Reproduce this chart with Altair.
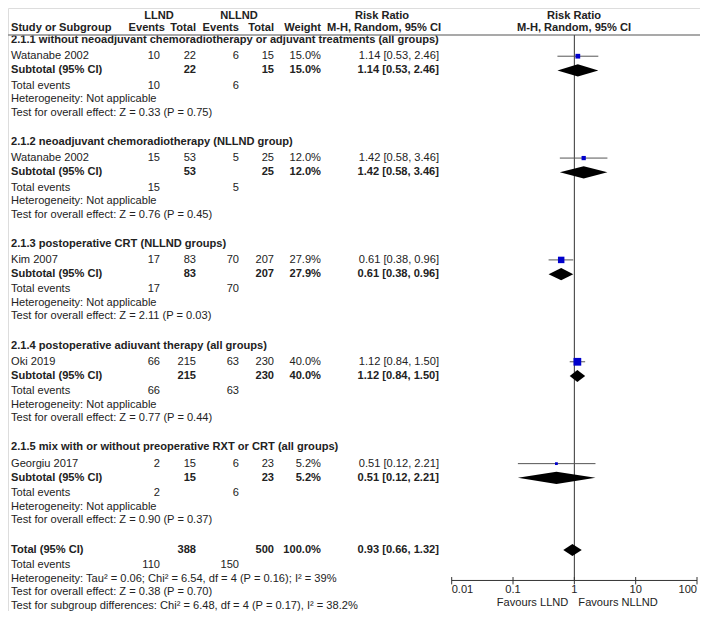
import altair as alt
import pandas as pd

# ---------------- data ----------------
group_titles = [
    "2.1.1 without neoadjuvant chemoradiotherapy or adjuvant treatments (all groups)",
    "2.1.2 neoadjuvant chemoradiotherapy (NLLND group)",
    "2.1.3 postoperative CRT (NLLND groups)",
    "2.1.4 postoperative adiuvant therapy (all groups)",
    "2.1.5 mix with or without preoperative RXT or CRT (all groups)",
]
studies = ["Watanabe 2002", "Watanabe 2002", "Kim 2007", "Oki 2019", "Georgiu 2017"]
llnd_events = [10, 15, 17, 66, 2]
llnd_total = [22, 53, 83, 215, 15]
nllnd_events = [6, 5, 70, 63, 6]
nllnd_total = [15, 25, 207, 230, 23]
weights = [15.0, 12.0, 27.9, 40.0, 5.2]
rr = [1.14, 1.42, 0.61, 1.12, 0.51]
rr_lo = [0.53, 0.58, 0.38, 0.84, 0.12]
rr_hi = [2.46, 3.46, 0.96, 1.50, 2.21]
overall_tests = ["Z = 0.33 (P = 0.75)", "Z = 0.76 (P = 0.45)", "Z = 2.11 (P = 0.03)",
                 "Z = 0.77 (P = 0.44)", "Z = 0.90 (P = 0.37)"]

total_llnd = 388
total_nllnd = 500
total_events_llnd = 110
total_events_nllnd = 150
total_rr, total_lo, total_hi = 0.93, 0.66, 1.32
total_het = "Heterogeneity: Tau\u00b2 = 0.06; Chi\u00b2 = 6.54, df = 4 (P = 0.16); I\u00b2 = 39%"
total_test = "Test for overall effect: Z = 0.38 (P = 0.70)"
subgroup_test = "Test for subgroup differences: Chi\u00b2 = 6.48, df = 4 (P = 0.17), I\u00b2 = 38.2%"

axis_ticks = [0.01, 0.1, 1, 10, 100]
axis_labels = ["0.01", "0.1", "1", "10", "100"]
favours = ["Favours LLND", "Favours NLLND"]

# ---------------- layout ----------------
W, H = 692, 603
FONT = "Liberation Sans"
TXT = "#222222"
FS_REG, FS_BOLD = 11.1, 11.1
block_y = [49 + 103.75 * k for k in range(5)]
OFF = dict(heading=-16.5, study=0, subtotal=14.5, tevents=30, het=44, test=57.5)
Y_TOTAL, Y_TEV, Y_HET, Y_TEST, Y_SUB = 552, 567, 581, 595, 609
Y_HDR1, Y_HDR2, Y_HLINE = 8.5, 20.5, 27.5
Y_AXIS = 583

X_LEFT, X_LE, X_LT, X_NE, X_NT, X_W, X_RR = 3, 152, 188, 231, 266, 313, 431

yscale = alt.Scale(domain=[-0.1, 614.1], reverse=True, nice=False, zero=False)
xscale = alt.Scale(type="log", domain=[0.01, 100], range=[443.7, 689], nice=False)

def fmt_ci(a, b, c):
    return f"{a:.2f} [{b:.2f}, {c:.2f}]"

items = []
def add(t, y, x, align="left", bold=False):
    items.append((str(t), y, x, align, "bold" if bold else "normal"))

# header
add("LLND", Y_HDR1, 151, "center", True)
add("NLLND", Y_HDR1, 231, "center", True)
add("Risk Ratio", Y_HDR1, 374, "center", True)
add("Risk Ratio", Y_HDR1, 566, "center", True)
add("Study or Subgroup", Y_HDR2, X_LEFT, "left", True)
add("Events", Y_HDR2, 157, "right", True)
add("Total", Y_HDR2, 188, "right", True)
add("Events", Y_HDR2, 231, "right", True)
add("Total", Y_HDR2, 266, "right", True)
add("Weight", Y_HDR2, 313, "right", True)
add("M-H, Random, 95% CI", Y_HDR2, 376, "center", True)
add("M-H, Random, 95% CI", Y_HDR2, 566, "center", True)

for k in range(5):
    b = block_y[k]
    add(group_titles[k], b + OFF["heading"], X_LEFT, "left", True)
    ys = b + OFF["study"]
    add(studies[k], ys, X_LEFT)
    add(llnd_events[k], ys, X_LE, "right")
    add(llnd_total[k], ys, X_LT, "right")
    add(nllnd_events[k], ys, X_NE, "right")
    add(nllnd_total[k], ys, X_NT, "right")
    add(f"{weights[k]:.1f}%", ys, X_W, "right")
    add(fmt_ci(rr[k], rr_lo[k], rr_hi[k]), ys, X_RR, "right")
    yt = b + OFF["subtotal"]
    add("Subtotal (95% CI)", yt, X_LEFT, "left", True)
    add(llnd_total[k], yt, X_LT, "right", True)
    add(nllnd_total[k], yt, X_NT, "right", True)
    add(f"{weights[k]:.1f}%", yt, X_W, "right", True)
    add(fmt_ci(rr[k], rr_lo[k], rr_hi[k]), yt, X_RR, "right", True)
    add("Total events", b + OFF["tevents"], X_LEFT)
    add(llnd_events[k], b + OFF["tevents"], X_LE, "right")
    add(nllnd_events[k], b + OFF["tevents"], X_NE, "right")
    add("Heterogeneity: Not applicable", b + OFF["het"], X_LEFT)
    add("Test for overall effect: " + overall_tests[k], b + OFF["test"], X_LEFT)

add("Total (95% CI)", Y_TOTAL, X_LEFT, "left", True)
add(total_llnd, Y_TOTAL, X_LT, "right", True)
add(total_nllnd, Y_TOTAL, X_NT, "right", True)
add("100.0%", Y_TOTAL, X_W, "right", True)
add(fmt_ci(total_rr, total_lo, total_hi), Y_TOTAL, X_RR, "right", True)
add("Total events", Y_TEV, X_LEFT)
add(total_events_llnd, Y_TEV, X_LE, "right")
add(total_events_nllnd, Y_TEV, X_NE, "right")
add(total_het, Y_HET, X_LEFT)
add(total_test, Y_TEST, X_LEFT)
add(subgroup_test, Y_SUB, X_LEFT)

tdf = pd.DataFrame(items, columns=["text", "y", "x", "align", "weight"])

layers = []
for (x, align, weight), sub in tdf.groupby(["x", "align", "weight"]):
    layers.append(
        alt.Chart(sub).mark_text(align=align, baseline="middle", font=FONT,
                                 fontSize=FS_BOLD if weight == "bold" else FS_REG,
                                 fontWeight=weight, color=TXT)
        .encode(x=alt.value(float(x)), y=alt.Y("y:Q", scale=yscale, axis=None), text="text:N")
    )

# header line
hl = pd.DataFrame({"y": [Y_HLINE]})
layers.append(alt.Chart(hl).mark_rule(color="#8c8c8c", strokeWidth=1.5)
              .encode(x=alt.value(0), x2=alt.value(W), y=alt.Y("y:Q", scale=yscale, axis=None)))

# null line
nl = pd.DataFrame({"x": [1], "y": [Y_HLINE], "y2": [Y_AXIS]})
layers.append(alt.Chart(nl).mark_rule(color="#333333", strokeWidth=1)
              .encode(x=alt.X("x:Q", scale=xscale, axis=None),
                      y=alt.Y("y:Q", scale=yscale, axis=None), y2="y2:Q"))

# study CI + squares
sdf = pd.DataFrame({"rr": rr, "lo": rr_lo, "hi": rr_hi, "w": weights,
                    "y": [b + OFF["study"] for b in block_y]})
layers.append(alt.Chart(sdf).mark_rule(color="#555555", strokeWidth=1)
              .encode(x=alt.X("lo:Q", scale=xscale, axis=None), x2="hi:Q",
                      y=alt.Y("y:Q", scale=yscale, axis=None)))
layers.append(alt.Chart(sdf).mark_square(color="#0000cc", opacity=1, filled=True)
              .encode(x=alt.X("rr:Q", scale=xscale, axis=None),
                      y=alt.Y("y:Q", scale=yscale, axis=None),
                      size=alt.Size("w:Q", scale=alt.Scale(domain=[0, 40], range=[0, 60], zero=True),
                                    legend=None)))

# diamonds
HALF = 6.2
drows = []
ests = [(rr[k], rr_lo[k], rr_hi[k], block_y[k] + OFF["subtotal"]) for k in range(5)]
ests.append((total_rr, total_lo, total_hi, Y_TOTAL))
for i, (e, l, h, yc) in enumerate(ests):
    drows.append((i, l, yc, yc))
    drows.append((i, e, yc - HALF, yc + HALF))
    drows.append((i, h, yc, yc))
ddf = pd.DataFrame(drows, columns=["id", "x", "ya", "yb"])
layers.append(alt.Chart(ddf).mark_area(color="#000000", opacity=1, interpolate="linear")
              .encode(x=alt.X("x:Q", scale=xscale, axis=None),
                      y=alt.Y("ya:Q", scale=yscale, axis=None), y2="yb:Q",
                      detail="id:N"))

# axis
adf = pd.DataFrame({"x": [axis_ticks[0]], "x2": [axis_ticks[-1]], "y": [Y_AXIS]})
layers.append(alt.Chart(adf).mark_rule(color="#333333", strokeWidth=1)
              .encode(x=alt.X("x:Q", scale=xscale, axis=None), x2="x2:Q",
                      y=alt.Y("y:Q", scale=yscale, axis=None)))
tk = pd.DataFrame({"x": axis_ticks, "label": axis_labels,
                   "y": [Y_AXIS - 3.5] * 5, "y2": [Y_AXIS + 4] * 5})
layers.append(alt.Chart(tk).mark_rule(color="#333333", strokeWidth=1)
              .encode(x=alt.X("x:Q", scale=xscale, axis=None),
                      y=alt.Y("y:Q", scale=yscale, axis=None), y2="y2:Q"))
tk["ly"] = Y_AXIS + 10
for sel, align in [([0], "left"), ([1, 2, 3], "center"), ([4], "right")]:
    layers.append(alt.Chart(tk.iloc[sel]).mark_text(align=align, baseline="middle", font=FONT,
                                                   fontSize=FS_REG, color=TXT)
                  .encode(x=alt.X("x:Q", scale=xscale, axis=None),
                          y=alt.Y("ly:Q", scale=yscale, axis=None), text="label:N"))
fv = pd.DataFrame({"x": [1, 1], "y": [Y_AXIS + 23] * 2, "t": favours})
layers.append(alt.Chart(fv.iloc[[0]]).mark_text(align="right", baseline="middle", font=FONT,
                                                fontSize=FS_REG, color=TXT, dx=-6)
              .encode(x=alt.X("x:Q", scale=xscale, axis=None),
                      y=alt.Y("y:Q", scale=yscale, axis=None), text="t:N"))
layers.append(alt.Chart(fv.iloc[[1]]).mark_text(align="left", baseline="middle", font=FONT,
                                                fontSize=FS_REG, color=TXT, dx=4)
              .encode(x=alt.X("x:Q", scale=xscale, axis=None),
                      y=alt.Y("y:Q", scale=yscale, axis=None), text="t:N"))

chart = (alt.layer(*layers)
         .properties(width=W, height=H, padding=0,
                     autosize=alt.AutoSizeParams(type="none"))
         .configure_view(stroke=None)
         .configure(background="white"))

chart.save("out.html", embed_options={"renderer": "svg", "actions": False})
